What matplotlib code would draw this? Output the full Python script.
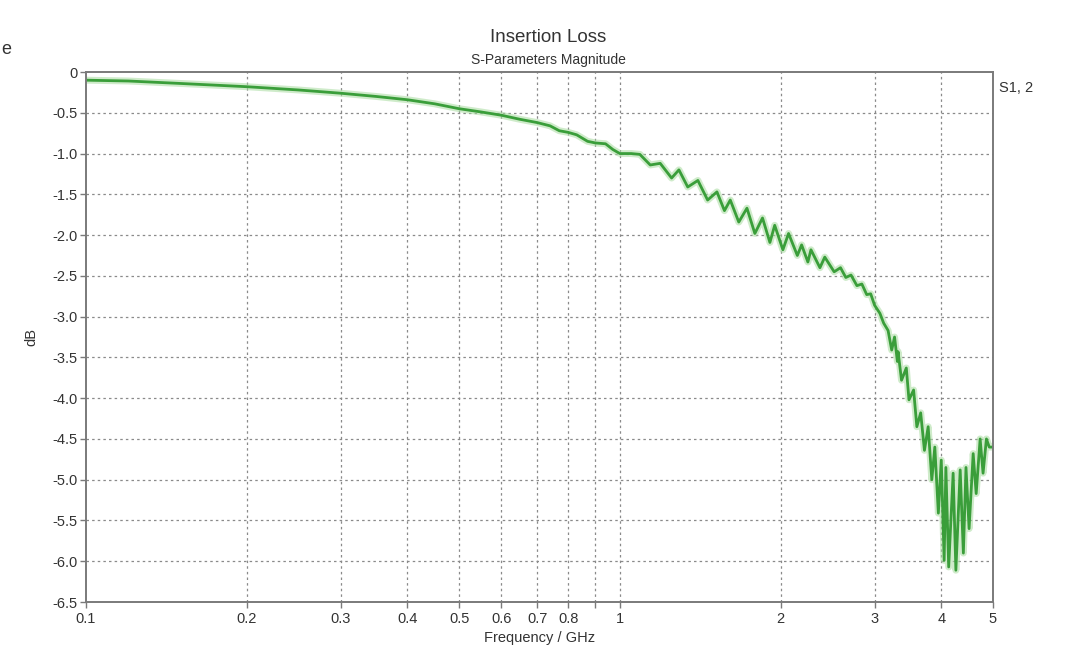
import numpy as np
import matplotlib.pyplot as plt

plt.rcParams['font.family'] = ['Liberation Sans', 'DejaVu Sans']

# S1,2 magnitude, smooth part below ~1.1 GHz
freq_smooth = [0.10, 0.12, 0.15, 0.20, 0.25, 0.30, 0.35, 0.40, 0.45, 0.50,
               0.55, 0.60, 0.65, 0.70, 0.74, 0.77, 0.80, 0.83, 0.87, 0.90,
               0.94, 0.97, 1.00, 1.05, 1.09]
db_smooth = [-0.10, -0.11, -0.14, -0.18, -0.22, -0.26, -0.30, -0.34, -0.39, -0.45,
             -0.49, -0.53, -0.58, -0.62, -0.66, -0.72, -0.74, -0.77, -0.85, -0.87,
             -0.88, -0.95, -1.00, -1.00, -1.01]

# ripple between 1.1 and 3 GHz (peaks and troughs)
freq_ripple = [1.14, 1.19, 1.25, 1.29, 1.34, 1.40, 1.46, 1.52, 1.57, 1.61,
               1.67, 1.73, 1.79, 1.85, 1.91, 1.95, 2.02, 2.07, 2.15, 2.19,
               2.25, 2.28, 2.37, 2.42, 2.52, 2.59, 2.65, 2.71, 2.78, 2.84,
               2.90, 2.95, 3.00]
db_ripple = [-1.14, -1.12, -1.30, -1.20, -1.41, -1.33, -1.57, -1.47, -1.70, -1.57,
             -1.84, -1.67, -1.98, -1.79, -2.09, -1.88, -2.18, -1.98, -2.25, -2.12,
             -2.33, -2.18, -2.40, -2.27, -2.45, -2.40, -2.52, -2.49, -2.62, -2.60,
             -2.73, -2.72, -2.86]

# strong resonance region above 3 GHz
freq_res = [3.07, 3.12, 3.18, 3.23, 3.27, 3.31, 3.32, 3.37, 3.44, 3.48,
            3.55, 3.60, 3.66, 3.72, 3.78, 3.84, 3.89, 3.95, 4.00, 4.05,
            4.08, 4.13, 4.21, 4.26, 4.34, 4.40, 4.45, 4.51, 4.59, 4.65,
            4.73, 4.79, 4.86, 4.92, 5.00]
db_res = [-2.96, -3.08, -3.17, -3.41, -3.25, -3.55, -3.43, -3.78, -3.63, -4.02,
          -3.90, -4.35, -4.18, -4.64, -4.35, -5.00, -4.60, -5.41, -4.76, -5.99,
          -4.85, -6.07, -4.92, -6.11, -4.88, -5.90, -4.85, -5.60, -4.68, -5.17,
          -4.50, -4.92, -4.50, -4.60, -4.60]

freq = np.array(freq_smooth + freq_ripple + freq_res)
s12 = np.array(db_smooth + db_ripple + db_res)

xticks = [0.1, 0.2, 0.3, 0.4, 0.5, 0.6, 0.7, 0.8, 0.9, 1, 2, 3, 4, 5]
xlabels = ['0.1', '0.2', '0.3', '0.4', '0.5', '0.6', '0.7', '0.8', '', '1',
           '2', '3', '4', '5']
yticks = [0, -0.5, -1.0, -1.5, -2.0, -2.5, -3.0, -3.5, -4.0, -4.5, -5.0,
          -5.5, -6.0, -6.5]
ylabels = ['0'] + ['%.1f' % v for v in yticks[1:]]

fig = plt.figure(figsize=(10.65, 6.56), dpi=100)
ax = fig.add_axes([0.0808, 0.0823, 0.8516, 0.8079])

ax.set_xscale('log')
ax.set_xlim(0.1, 5)
ax.set_ylim(-6.5, 0)

# glow under the trace, then the trace itself
ax.plot(freq, s12, color='#a8dca0', lw=5.0, alpha=0.55,
        solid_joinstyle='round', solid_capstyle='round')
ax.plot(freq, s12, color='#3a9e3a', lw=2.0,
        solid_joinstyle='round', solid_capstyle='round')

ax.set_xticks(xticks)
ax.set_xticklabels(xlabels)
ax.xaxis.set_minor_locator(plt.NullLocator())
ax.set_yticks(yticks)
ax.set_yticklabels(ylabels)

grid_kw = dict(color='#8a8a8a', linestyle=(0, (2, 2.5)), linewidth=0.9)
for xv in xticks[1:-1]:
    ax.axvline(xv, zorder=0, **grid_kw)
for yv in yticks[1:-1]:
    ax.axhline(yv, zorder=0, **grid_kw)

for sp in ax.spines.values():
    sp.set_color('#7a7a7a')
    sp.set_linewidth(1.4)

ax.tick_params(axis='both', direction='out', length=4, width=1,
               color='#7a7a7a', labelsize=10.5, labelcolor='#333333')
ax.tick_params(axis='x', pad=3)
ax.tick_params(axis='y', pad=2)

ax.set_xlabel('Frequency / GHz', fontsize=10.5, color='#333333', labelpad=4)
ax.set_ylabel('dB', fontsize=10.5, color='#333333', labelpad=10)

fig.text(0.515, 0.943, 'Insertion Loss', ha='center', va='center',
         fontsize=13.5, color='#333333')
fig.text(0.515, 0.908, 'S-Parameters Magnitude', ha='center', va='center',
         fontsize=10, color='#333333')
fig.text(0.938, 0.866, 'S1, 2', ha='left', va='center',
         fontsize=10.5, color='#333333')
fig.text(0.001, 0.925, 'e', ha='left', va='center',
         fontsize=13, color='#333333')

fig.savefig('out.png', dpi=100)
